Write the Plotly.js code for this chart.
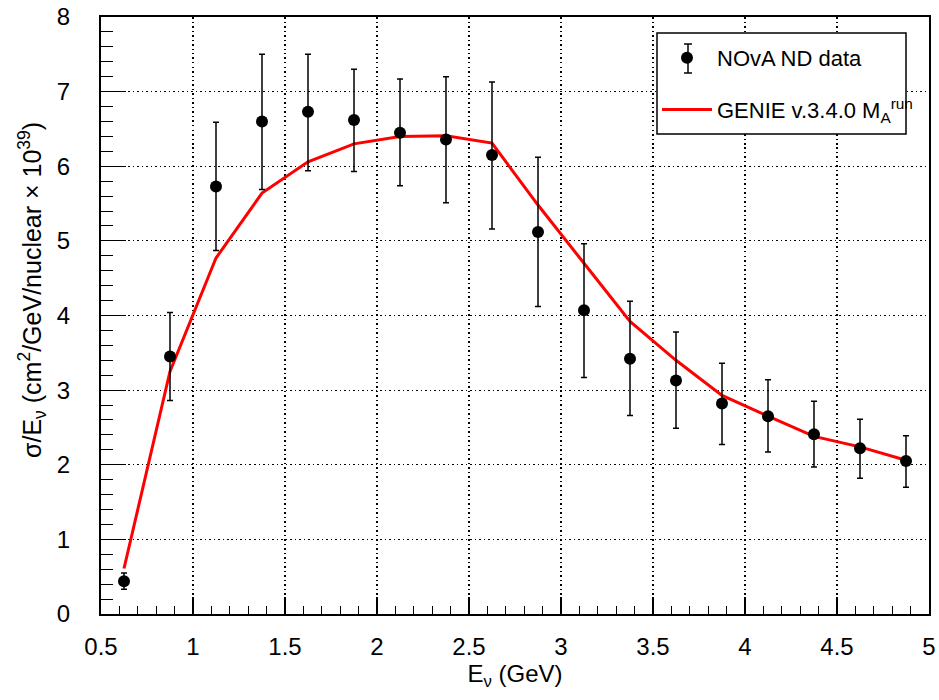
<!DOCTYPE html>
<html>
<head>
<meta charset="utf-8">
<script src="https://cdn.plot.ly/plotly-3.0.1.min.js"></script>
<style>html,body{margin:0;padding:0;background:#fff;}#chart{width:939px;height:700px;}</style>
</head>
<body>
<div id="chart"></div>
<script>
// Bin centres (GeV)
const energy = [0.625, 0.875, 1.125, 1.375, 1.625, 1.875, 2.125, 2.375, 2.625, 2.875,
                3.125, 3.375, 3.625, 3.875, 4.125, 4.375, 4.625, 4.875];
// NOvA ND data
const dataY = [0.44, 3.45, 5.73, 6.60, 6.73, 6.62, 6.45, 6.36, 6.15, 5.12,
               4.07, 3.42, 3.13, 2.82, 2.65, 2.41, 2.22, 2.05];
const dataTop = [0.55, 4.04, 6.59, 7.50, 7.50, 7.30, 7.17, 7.20, 7.13, 6.12,
                 4.96, 4.19, 3.78, 3.36, 3.14, 2.85, 2.61, 2.39];
const dataBottom = [0.33, 2.86, 4.87, 5.69, 5.94, 5.93, 5.74, 5.51, 5.16, 4.12,
                    3.17, 2.66, 2.49, 2.27, 2.17, 1.97, 1.82, 1.70];
// GENIE v3.4.0 prediction
const genieY = [0.61, 3.25, 4.77, 5.64, 6.06, 6.30, 6.40, 6.41, 6.31, 5.48,
                4.70, 3.92, 3.40, 2.93, 2.65, 2.38, 2.24, 2.06];

const errUp = dataTop.map((t, i) => t - dataY[i]);
const errDown = dataBottom.map((b, i) => dataY[i] - b);

const FONT = 'Liberation Sans, Arial, sans-serif';

const traces = [
  {
    x: energy, y: genieY, type: 'scatter', mode: 'lines',
    name: 'GENIE v.3.4.0 M<sub>A</sub><sup>run</sup>',
    line: {color: '#ff0000', width: 3},
    legendgroup: 'b', legendrank: 2
  },
  {
    x: energy, y: dataY, type: 'scatter', mode: 'markers',
    name: 'NOvA ND data',
    marker: {color: '#000000', size: 12, symbol: 'circle'},
    error_y: {type: 'data', symmetric: false, array: errUp, arrayminus: errDown,
              color: '#000000', thickness: 1.5, width: 3},
    legendgroup: 'a', legendrank: 1
  }
];

const legX0 = 657, legX1 = 906, legY0 = 33, legY1 = 134;
const L = 101, R = 929, T = 17, B = 614;
const px2x = p => (p - L) / (R - L);
const px2y = p => (B - p) / (B - T);

const layout = {
  width: 939, height: 700,
  margin: {l: L, r: 939 - R, t: T, b: 700 - B},
  paper_bgcolor: '#ffffff', plot_bgcolor: '#ffffff',
  font: {family: FONT, size: 24, color: '#000000'},
  showlegend: true,
  legend: {
    x: px2x(legX0), y: px2y(legY0 + 4), xanchor: 'left', yanchor: 'top',
    bgcolor: 'rgba(0,0,0,0)', borderwidth: 0,
    font: {family: FONT, size: 22, color: '#000'},
    traceorder: 'grouped', tracegroupgap: 20, itemwidth: 50
  },
  xaxis: {
    range: [0.5, 5], dtick: 0.5, tick0: 0.5,
    ticks: 'inside', ticklen: 17, tickwidth: 1.2, tickcolor: '#000',
    minor: {dtick: 0.1, ticks: 'inside', ticklen: 8, tickwidth: 1, tickcolor: '#000', showgrid: false},
    showline: true, linecolor: '#000', linewidth: 2, mirror: true,
    showgrid: true, gridcolor: '#000', gridwidth: 1.2, griddash: '1.5px,3px',
    zeroline: false, ticklabelstandoff: 10,
    tickfont: {family: FONT, size: 24, color: '#000'},
    title: {text: 'E<sub>ν</sub> (GeV)', font: {family: FONT, size: 24, color: '#000'}, standoff: 6}
  },
  yaxis: {
    range: [0, 8], dtick: 1, tick0: 0,
    ticks: 'inside', ticklen: 25, tickwidth: 1.2, tickcolor: '#000',
    minor: {dtick: 0.2, ticks: 'inside', ticklen: 12, tickwidth: 1, tickcolor: '#000', showgrid: false},
    showline: true, linecolor: '#000', linewidth: 2, mirror: true,
    showgrid: true, gridcolor: '#000', gridwidth: 1.2, griddash: '1.5px,3px',
    zeroline: false, ticklabelstandoff: 24,
    tickfont: {family: FONT, size: 24, color: '#000'}
  },
  annotations: [
    {text: 'σ/E<sub>ν</sub> (cm<sup>2</sup>/GeV/nuclear × 10<sup>39</sup>)',
     xref: 'paper', yref: 'paper', x: px2x(32), y: px2y(290),
     xanchor: 'center', yanchor: 'middle', textangle: -90, showarrow: false,
     font: {family: FONT, size: 25, color: '#000'}}
  ],
  shapes: [
    {type: 'rect', xref: 'paper', yref: 'paper', layer: 'above',
     x0: px2x(legX0), x1: px2x(legX1), y0: px2y(legY1), y1: px2y(legY0),
     fillcolor: '#ffffff', line: {color: '#000', width: 1.5}},
    {type: 'line', xref: 'paper', yref: 'paper', layer: 'above',
     x0: px2x(688), x1: px2x(688), y0: px2y(44), y1: px2y(73),
     line: {color: '#000', width: 1.5}},
    {type: 'line', xref: 'paper', yref: 'paper', layer: 'above',
     x0: px2x(684), x1: px2x(692), y0: px2y(44), y1: px2y(44),
     line: {color: '#000', width: 1.5}},
    {type: 'line', xref: 'paper', yref: 'paper', layer: 'above',
     x0: px2x(684), x1: px2x(692), y0: px2y(73), y1: px2y(73),
     line: {color: '#000', width: 1.5}}
  ]
};

Plotly.newPlot('chart', traces, layout, {staticPlot: true, displayModeBar: false});
</script>
</body>
</html>
